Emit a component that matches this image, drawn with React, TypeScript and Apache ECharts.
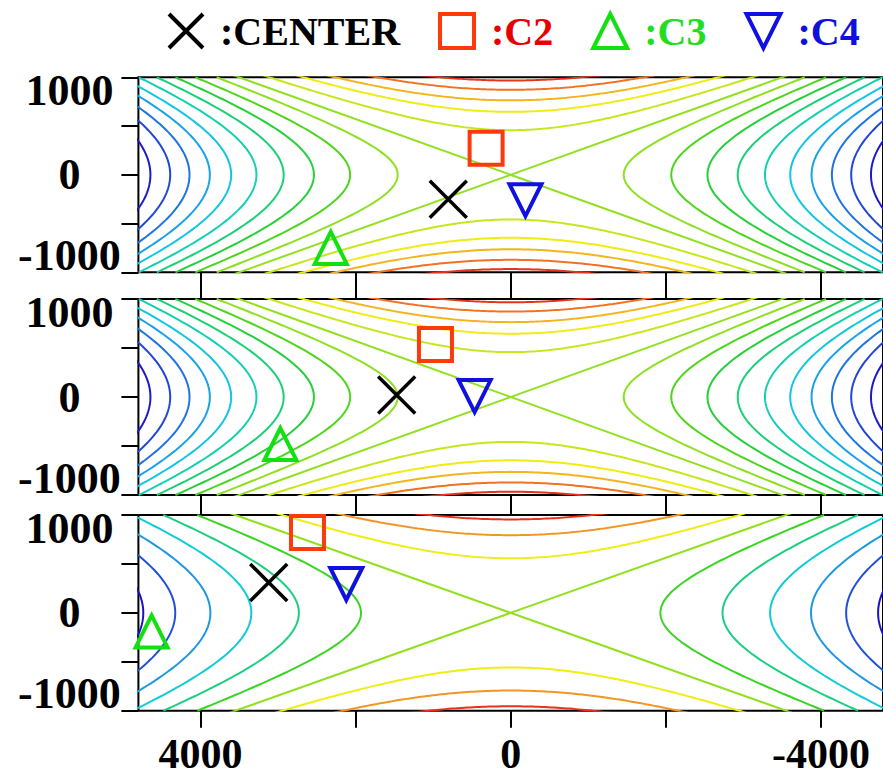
import React, { useEffect, useRef } from "react";
import * as echarts from "echarts";

// ---- axis ticks / labels ----
const X_TICKS = [4000, 2000, 0, -2000, -4000];
const X_LABELS = [4000, 0, -4000];
const Y_LABELS = [1000, 0, -1000];

// ---- contour levels ----
// panels 1 and 2 share the same field
const SHAPE_12 = 3.5; // x/y ratio of the zero-level asymptotes
const SIDE_X0_12 = [1457, 2070, 2537, 2927, 3278, 3604, 3879, 4141, 4390, 4645];
const SIDE_COLORS_12 = ["#8ee021", "#4ed61c", "#26d03a", "#1ad076", "#14d0b2", "#12c6e2", "#1aa2e8", "#2074e0", "#2246d6", "#1e1ac8"];
const TOP_Y0_12 = [458, 646, 764, 872, 967];
const TOP_COLORS_12 = ["#c4e81e", "#f0ec12", "#f4b41e", "#f07222", "#e4341a"];

// panel 3
const SHAPE_3 = 3.55;
const SIDE_X0_3 = [1930, 2731, 3344, 3872, 4325, 4737];
const SIDE_COLORS_3 = ["#3cd424", "#1ccf80", "#12cbd6", "#1f98e2", "#2050d8", "#1a12c4"];
const TOP_Y0_3 = [558, 794, 955];
const TOP_COLORS_3 = ["#eeee14", "#f09624", "#e8321c"];

const ZERO_COLOR = "#92e01e";

// ---- markers, one per panel ----
const CENTER = [[805, -250], [1470, 20], [3120, 310]];
const C2 = [[317, 272], [970, 535], [2620, 820]];
const C3 = [[2320, -750], [2970, -480], [4630, -190]];
const C4 = [[-190, -260], [465, 10], [2120, 295]];

const X_MIN = -4800;
const X_MAX = 4800;
const Y_MIN = -1000;
const Y_MAX = 1000;

const FONT = "'Liberation Serif', 'Times New Roman', serif";

const GRIDS = [
  { top: 77.3, height: 195 },
  { top: 299, height: 196 },
  { top: 515, height: 195.7 },
];

function sideBranch(x0: number, s: number, sign: number) {
  const pts: number[][] = [];
  for (let y = Y_MIN; y <= Y_MAX; y += 20) {
    pts.push([sign * Math.sqrt(x0 * x0 + s * s * y * y), y]);
  }
  return pts;
}
function topBranch(y0: number, s: number, sign: number) {
  const pts: number[][] = [];
  for (let x = X_MIN; x <= X_MAX; x += 40) {
    pts.push([x, sign * Math.sqrt(y0 * y0 + (x * x) / (s * s))]);
  }
  return pts;
}
function zeroBranch(s: number, sign: number) {
  return [
    [X_MIN, (sign * X_MIN) / s],
    [X_MAX, (sign * X_MAX) / s],
  ];
}

function lineSeries(p: number, data: number[][], color: string) {
  return {
    type: "line",
    xAxisIndex: p * 2,
    yAxisIndex: p,
    data,
    symbol: "none",
    showSymbol: false,
    silent: true,
    z: 2,
    lineStyle: { color, width: 2 },
  };
}

function buildContours(p: number, s: number, sideX0: number[], sideCol: string[], topY0: number[], topCol: string[]) {
  const out: any[] = [];
  sideX0.forEach((x0, i) => {
    out.push(lineSeries(p, sideBranch(x0, s, 1), sideCol[i]));
    out.push(lineSeries(p, sideBranch(x0, s, -1), sideCol[i]));
  });
  topY0.forEach((y0, i) => {
    out.push(lineSeries(p, topBranch(y0, s, 1), topCol[i]));
    out.push(lineSeries(p, topBranch(y0, s, -1), topCol[i]));
  });
  out.push(lineSeries(p, zeroBranch(s, 1), ZERO_COLOR));
  out.push(lineSeries(p, zeroBranch(s, -1), ZERO_COLOR));
  return out;
}

const X_PATH = "path://M0 0L10 10M10 0L0 10";
const DOWN_TRI_PATH = "path://M0 0L10 0L5 10Z";

function markerSeries(p: number) {
  const base = { type: "scatter", xAxisIndex: p * 2, yAxisIndex: p, clip: false, z: 10, silent: true };
  const st = (c: string, w: number) => ({ color: "rgba(0,0,0,0)", borderColor: c, borderWidth: w, opacity: 1 });
  return [
    { ...base, name: "CENTER", data: [CENTER[p]], symbol: X_PATH, symbolSize: 37, itemStyle: st("#000000", 3.5) },
    { ...base, name: "C2", data: [C2[p]], symbol: "rect", symbolSize: 33, itemStyle: st("#ff3a0a", 4) },
    { ...base, name: "C3", data: [C3[p]], symbol: "triangle", symbolSize: 32, itemStyle: st("#12e012", 4) },
    { ...base, name: "C4", data: [C4[p]], symbol: DOWN_TRI_PATH, symbolSize: 32, itemStyle: st("#1010e0", 4) },
  ];
}

const labelFont = { fontFamily: FONT, fontWeight: "bold" as const, fontSize: 44, color: "#000" };

export default function App() {
  const ref = useRef<HTMLDivElement>(null);
  useEffect(() => {
    if (!ref.current) return;
    const chart = echarts.init(ref.current, undefined, { renderer: "svg" });

    const grid = GRIDS.map((g) => ({
      left: 138.4,
      width: 751.2,
      top: g.top,
      height: g.height,
      show: true,
      borderColor: "#000",
      borderWidth: 2,
      backgroundColor: "transparent",
    }));

    const tick = { show: true, inside: false, length: 17, lineStyle: { color: "#000", width: 2 } };

    const xAxis: any[] = [];
    const yAxis: any[] = [];
    for (let p = 0; p < 3; p++) {
      const common = {
        type: "value",
        gridIndex: p,
        min: X_MIN,
        max: X_MAX,
        inverse: true,
        axisLine: { show: false, onZero: false },
        splitLine: { show: false },
      };
      xAxis.push({
        ...common,
        position: "bottom",
        axisTick: { ...tick, customValues: X_TICKS },
        axisLabel: {
          show: p === 2,
          customValues: X_LABELS,
          margin: 26,
          ...labelFont,
          fontSize: 42,
          lineHeight: 34,
          formatter: (v: number) => String(v),
        },
      });
      xAxis.push({
        ...common,
        position: "top",
        axisTick: { ...tick, show: p > 0, customValues: X_TICKS },
        axisLabel: { show: false, customValues: X_LABELS },
      });
      yAxis.push({
        type: "value",
        gridIndex: p,
        min: Y_MIN,
        max: Y_MAX,
        interval: 500,
        position: "left",
        axisLine: { show: false, onZero: false },
        splitLine: { show: false },
        axisTick: tick,
        axisLabel: {
          margin: 69,
          align: "center",
          ...labelFont,
          formatter: (v: number) => {
            if (!Y_LABELS.includes(v)) return "";
            if (v === Y_MAX) return "{hi|" + v + "}";
            if (v === Y_MIN) return "{lo|" + v + "}";
            return "{mid|" + v + "}";
          },
          rich: {
            hi: { ...labelFont, padding: [26, 0, 0, 0] },
            lo: { ...labelFont, padding: [0, 0, 34, 0] },
            mid: { ...labelFont },
          },
        },
      });
    }

    const series: any[] = [
      ...buildContours(0, SHAPE_12, SIDE_X0_12, SIDE_COLORS_12, TOP_Y0_12, TOP_COLORS_12),
      ...buildContours(1, SHAPE_12, SIDE_X0_12, SIDE_COLORS_12, TOP_Y0_12, TOP_COLORS_12),
      ...buildContours(2, SHAPE_3, SIDE_X0_3, SIDE_COLORS_3, TOP_Y0_3, TOP_COLORS_3),
      ...markerSeries(0),
      ...markerSeries(1),
      ...markerSeries(2),
    ];

    chart.setOption({
      animation: false,
      backgroundColor: "#ffffff",
      legend: {
        left: 167,
        top: 11,
        padding: 0,
        itemWidth: 34,
        itemHeight: 34,
        itemGap: 38,
        selectedMode: false,
        formatter: ":{name}",
        itemStyle: { borderWidth: 4 },
        textStyle: { fontFamily: FONT, fontWeight: "bold", fontSize: 40, padding: [0, 0, 0, 12] },
        data: [
          { name: "CENTER", textStyle: { color: "#000000" } },
          { name: "C2", textStyle: { color: "#e80000" } },
          { name: "C3", textStyle: { color: "#22dd22" } },
          { name: "C4", icon: DOWN_TRI_PATH, textStyle: { color: "#1010dd" } },
        ],
      },
      grid,
      xAxis,
      yAxis,
      series,
    });
    return () => chart.dispose();
  }, []);
  return <div ref={ref} style={{ position: "absolute", left: 0, top: 0, width: 883, height: 778, background: "#fff" }} />;
}
